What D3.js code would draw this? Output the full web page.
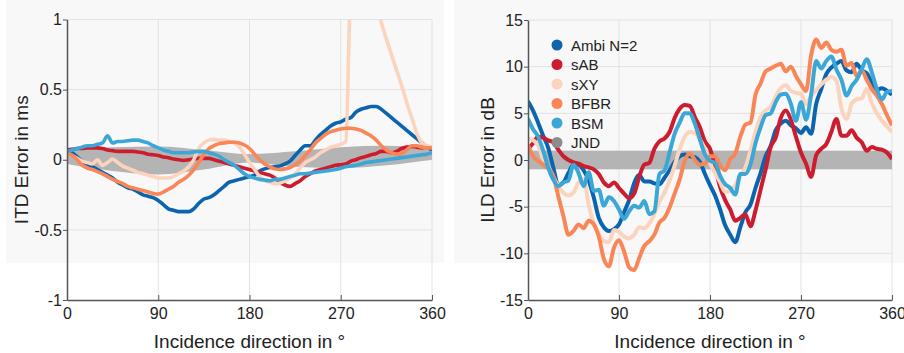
<!DOCTYPE html>
<html>
<head>
<meta charset="utf-8">
<script src="https://cdn.jsdelivr.net/npm/d3@7"></script>
<style>
  body { margin: 0; background: #fff; }
  text { font-family: "Liberation Sans", Arial, sans-serif; fill: #222; }
</style>
</head>
<body>
<div id="area"></div>
<script>
// angles (deg) shared by all curves, 5 deg steps
var angles = d3.range(0, 361, 5);

var seriesNames = ["Ambi N=2", "sAB", "sXY", "BFBR", "BSM"];
var seriesColors = ["#0b64ad", "#cc1c2e", "#fcd3bd", "#fa8658", "#3aa7d7"];

// ITD error in ms
var itdAmbi = [0.06,0.05,0.02,-0.01,-0.03,-0.05,-0.07,-0.09,-0.11,-0.13,-0.16,-0.18,-0.2,-0.21,-0.23,-0.25,-0.26,-0.27,-0.29,-0.32,-0.35,-0.36,-0.37,-0.37,-0.37,-0.35,-0.31,-0.28,-0.27,-0.25,-0.22,-0.19,-0.16,-0.15,-0.14,-0.13,-0.12,-0.11,-0.08,-0.065,-0.055,-0.05,-0.045,-0.03,-0.01,0.03,0.07,0.1,0.1,0.14,0.18,0.21,0.24,0.26,0.27,0.29,0.3,0.34,0.36,0.37,0.38,0.38,0.36,0.33,0.3,0.27,0.24,0.21,0.18,0.15,0.12,0.09,0.07];
var itdSAB = [0.07,0.075,0.08,0.08,0.085,0.085,0.085,0.08,0.07,0.065,0.06,0.06,0.06,0.06,0.055,0.05,0.04,0.035,0.03,0.02,0.015,0.005,0.0,-0.005,0.0,0.005,0.01,0.01,0.01,0.0,-0.01,-0.02,-0.03,-0.04,-0.05,-0.06,-0.07,-0.08,-0.09,-0.1,-0.11,-0.13,-0.16,-0.18,-0.19,-0.17,-0.15,-0.12,-0.1,-0.08,-0.07,-0.06,-0.05,-0.04,-0.035,-0.03,-0.01,0.0,0.015,0.024,0.035,0.045,0.06,0.06,0.05,0.06,0.08,0.09,0.095,0.09,0.085,0.09,0.08];
var itdSXY = [0.05,0.03,0.01,-0.01,-0.02,-0.03,0.0,-0.04,-0.02,0.005,-0.02,-0.045,-0.06,-0.075,-0.09,-0.1,-0.11,-0.12,-0.13,-0.13,-0.13,-0.12,-0.1,-0.08,-0.05,0.0,0.08,0.12,0.14,0.145,0.14,0.14,0.13,0.12,0.09,0.04,-0.02,-0.07,-0.12,-0.15,-0.16,-0.17,-0.165,-0.15,-0.13,-0.1,-0.06,-0.02,0.0,0.02,0.05,0.07,0.09,0.1,0.11,0.13,1.25,1.35,1.38,1.35,1.25,1.12,0.98,0.86,0.75,0.64,0.53,0.41,0.3,0.19,0.12,0.1,0.09];
var itdBFBR = [0.05,0.03,0.0,-0.04,-0.06,-0.07,-0.085,-0.1,-0.12,-0.14,-0.155,-0.17,-0.19,-0.2,-0.21,-0.22,-0.23,-0.24,-0.245,-0.23,-0.21,-0.19,-0.16,-0.14,-0.11,-0.07,-0.02,0.04,0.08,0.1,0.115,0.12,0.125,0.125,0.12,0.105,0.08,0.04,0.0,-0.03,-0.05,-0.065,-0.07,-0.065,-0.055,-0.035,-0.01,0.03,0.07,0.12,0.15,0.18,0.2,0.21,0.22,0.225,0.225,0.22,0.21,0.19,0.17,0.14,0.1,0.07,0.05,0.04,0.045,0.07,0.1,0.1,0.09,0.085,0.085];
var itdBSM = [0.06,0.07,0.08,0.09,0.1,0.1,0.11,0.12,0.17,0.12,0.13,0.13,0.135,0.14,0.14,0.13,0.12,0.1,0.085,0.07,0.06,0.05,0.05,0.05,0.05,0.055,0.06,0.06,0.05,0.04,0.025,0.0,-0.02,-0.04,-0.07,-0.1,-0.12,-0.13,-0.14,-0.145,-0.15,-0.14,-0.14,-0.13,-0.12,-0.11,-0.1,-0.1,-0.095,-0.09,-0.085,-0.08,-0.075,-0.07,-0.06,-0.05,-0.045,-0.04,-0.03,-0.02,-0.015,-0.01,-0.005,0.0,0.005,0.01,0.015,0.02,0.025,0.03,0.035,0.04,0.05];
var itdJndAngles = [0, 45, 90, 135, 180, 225, 270, 315, 360];
var itdJndUpper = [0.08, 0.09, 0.095, 0.07, 0.04, 0.06, 0.09, 0.1, 0.08];
var itdJndLower = [-0.03, -0.08, -0.105, -0.07, -0.02, -0.05, -0.06, -0.04, 0.0];

// ILD error in dB
var ildAmbi = [6.3,5.3,4.0,2.6,1.3,-0.8,-2.7,-2.4,-1.4,-0.5,-0.5,-1.1,-2.2,-4.0,-6.2,-7.2,-7.6,-7.4,-6.9,-5.6,-4.3,-2.5,-1.6,-2.3,-2.3,-2.5,-2.6,-1.9,-1.1,-0.2,0.4,0.6,0.4,0.3,-0.2,-1.5,-2.7,-3.8,-5.3,-7.0,-8.0,-8.8,-7.2,-5.6,-4.8,-3.0,-1.4,0.4,1.5,3.2,3.9,4.2,3.7,3.4,2.9,3.5,2.8,6.0,7.6,9.2,9.9,10.3,10.6,9.6,9.4,10.3,9.6,9.3,8.3,7.5,7.7,7.4,7.0];
var ildSAB = [1.2,1.8,2.5,2.4,2.1,1.9,1.1,0.4,0.0,-0.25,-0.4,-0.65,-0.8,-1.0,-1.5,-2.4,-2.8,-2.4,-3.0,-3.6,-4.1,-3.6,-1.8,-0.5,-0.3,1.2,2.0,2.3,3.0,4.5,5.5,5.9,5.8,4.6,3.5,2.0,1.2,-0.8,-2.9,-4.3,-5.3,-6.5,-6.2,-5.8,-7.1,-5.4,-3.2,-1.0,1.4,2.4,4.5,5.3,4.3,2.5,0.8,-0.4,-1.8,0.5,1.2,1.7,3.0,4.4,2.6,2.6,3.2,2.4,1.9,1.0,1.4,1.2,1.1,0.8,0.1];
var ildSXY = [2.3,2.1,1.6,0.1,-0.7,-1.8,-2.8,-3.5,-3.8,-3.5,-2.4,-2.0,-4.8,-6.8,-7.9,-8.7,-8.8,-7.5,-7.7,-8.2,-8.4,-8.0,-7.2,-7.3,-6.8,-5.8,-4.5,-3.5,-2.2,-0.6,1.15,2.5,3.0,2.9,2.2,1.2,-0.3,-1.4,-2.4,-3.4,-3.3,-2.7,-1.7,-0.8,1.0,3.0,4.6,5.3,5.7,6.8,7.7,8.0,7.4,7.2,7.1,6.0,6.8,7.5,8.1,8.6,8.9,8.5,5.5,4.4,6.0,6.5,6.6,7.6,6.1,5.0,4.2,3.6,3.0];
var ildBFBR = [1.6,0.4,-0.1,-0.5,-0.9,-1.7,-3.9,-6.0,-8.0,-7.6,-6.9,-7.3,-6.5,-6.9,-8.2,-10.6,-11.4,-9.4,-8.6,-9.8,-11.5,-11.8,-10.5,-9.2,-8.7,-8.0,-6.7,-6.2,-5.1,-3.6,-2.1,-0.1,0.7,0.0,-0.5,-0.4,0.4,0.4,-0.6,-1.1,0.1,0.7,2.5,3.8,4.0,7.0,8.2,9.5,9.8,10.1,10.3,9.5,10.0,9.0,8.1,7.4,11.2,12.9,12.0,12.6,11.8,11.6,11.8,10.1,10.4,9.0,9.6,8.6,7.6,6.9,6.0,4.8,3.7];
var ildBSM = [4.4,3.3,2.5,1.0,-0.8,-2.1,-2.8,-2.4,-2.2,-0.5,-1.4,-2.8,-1.3,-3.3,-3.2,-4.9,-4.0,-4.4,-5.3,-6.3,-5.5,-4.9,-5.1,-4.4,-5.8,-5.5,-1.5,-1.1,0.8,2.8,4.0,5.0,5.0,3.9,2.2,0.6,-0.1,-0.3,-1.7,-2.6,-3.0,-3.7,-1.5,-1.5,-0.5,1.8,3.5,4.8,5.0,6.2,7.0,7.1,6.0,4.2,6.2,4.3,7.0,10.6,9.8,10.6,11.1,9.7,8.6,6.9,7.9,8.6,9.7,10.8,9.4,7.6,6.5,7.3,7.4];
var ildJnd = [-1, 1];

var xTicks = [0, 90, 180, 270, 360];
var itdTicks = [-1, -0.5, 0, 0.5, 1];
var ildTicks = [-15, -10, -5, 0, 5, 10, 15];

var svg = d3.select("#area").append("svg")
  .attr("width", 904).attr("height", 353);

// faint grey scan background in the upper part
svg.append("rect").attr("x", 6).attr("y", 0).attr("width", 438).attr("height", 263).attr("fill", "#f8f8f8");
svg.append("rect").attr("x", 454).attr("y", 0).attr("width", 450).attr("height", 263).attr("fill", "#f8f8f8");

function panel(opts) {
  var m = opts.margin;
  var width = opts.width, height = opts.height;
  var g = svg.append("g").attr("transform", "translate(" + m.left + "," + m.top + ")");

  var x = d3.scaleLinear().domain([0, 360]).range([0, width]);
  var y = d3.scaleLinear().domain(opts.yDomain).range([height, 0]);

  // grid
  g.append("g").selectAll("line").data(xTicks.slice(1)).enter().append("line")
    .attr("x1", d => x(d)).attr("x2", d => x(d)).attr("y1", 0).attr("y2", height)
    .attr("stroke", "#e2e2e2").attr("stroke-width", 1);
  g.append("g").selectAll("line").data(opts.yTicks.slice(1)).enter().append("line")
    .attr("x1", 0).attr("x2", width).attr("y1", d => y(d)).attr("y2", d => y(d))
    .attr("stroke", "#e2e2e2").attr("stroke-width", 1);

  var clipId = "clip" + opts.id;
  g.append("clipPath").attr("id", clipId).append("rect")
    .attr("x", 0).attr("y", 0).attr("width", width).attr("height", height);
  var plot = g.append("g").attr("clip-path", "url(#" + clipId + ")");

  opts.drawBand(plot, x, y);

  var line = d3.line().x((d, i) => x(angles[i])).y(d => y(d)).curve(d3.curveMonotoneX);
  opts.series.forEach(function (s, i) {
    plot.append("path").datum(s)
      .attr("fill", "none")
      .attr("stroke", seriesColors[i])
      .attr("stroke-width", opts.lineWidth)
      .attr("stroke-linejoin", "round")
      .attr("d", line);
  });

  var xAxis = g.append("g").attr("transform", "translate(0," + height + ")")
    .call(d3.axisBottom(x).tickValues(xTicks).tickSizeInner(-5).tickSizeOuter(0).tickPadding(8));
  var yAxis = g.append("g")
    .call(d3.axisLeft(y).tickValues(opts.yTicks).tickSizeInner(4).tickSizeOuter(0).tickPadding(1)
      .tickFormat(d => d3.format("")(d).replace("−", "-")));
  [xAxis, yAxis].forEach(function (a) {
    a.select(".domain").attr("stroke", "#555").attr("stroke-width", 1.5);
    a.selectAll(".tick line").attr("stroke", "#555");
    a.selectAll("text").style("font-size", "16px").attr("fill", "#222");
  });

  g.append("text")
    .attr("x", width / 2).attr("y", height + 48)
    .attr("text-anchor", "middle").style("font-size", "19px")
    .text("Incidence direction in °");
  g.append("text")
    .attr("transform", "translate(" + opts.yTitleX + "," + height / 2 + ") rotate(-90)")
    .attr("text-anchor", "middle").style("font-size", "19px")
    .text(opts.yTitle);
  return { g: g, x: x, y: y };
}

// left: ITD
panel({
  id: "itd",
  margin: { top: 19.5, left: 67 },
  width: 365, height: 280.5,
  yDomain: [-1, 1], yTicks: itdTicks,
  series: [itdAmbi, itdSAB, itdSXY, itdBFBR, itdBSM],
  lineWidth: 3.6,
  yTitle: "ITD Error in ms", yTitleX: -39,
  drawBand: function (p, x, y) {
    var area = d3.area()
      .x((d, i) => x(itdJndAngles[i]))
      .y0((d, i) => y(itdJndLower[i]))
      .y1(d => y(d))
      .curve(d3.curveMonotoneX);
    p.append("path").datum(itdJndUpper).attr("fill", "#b4b4b4").attr("d", area);
  }
});

// right: ILD
var right = panel({
  id: "ild",
  margin: { top: 20, left: 528 },
  width: 364, height: 280,
  yDomain: [-15, 15], yTicks: ildTicks,
  series: [ildAmbi, ildSAB, ildSXY, ildBFBR, ildBSM],
  lineWidth: 4,
  yTitle: "ILD Error in dB", yTitleX: -34,
  drawBand: function (p, x, y) {
    p.append("rect").attr("x", x(0)).attr("width", x(360) - x(0))
      .attr("y", y(ildJnd[1])).attr("height", y(ildJnd[0]) - y(ildJnd[1]))
      .attr("fill", "#b4b4b4");
  }
});

// legend
var legendColors = seriesColors.concat(["#8c8c8c"]);
var legendNames = seriesNames.concat(["JND"]);
var lg = right.g.append("g").attr("transform", "translate(29,25)");
legendNames.forEach(function (n, i) {
  var row = lg.append("g").attr("transform", "translate(0," + (i * 19.5) + ")");
  row.append("circle").attr("r", 5.5).attr("fill", legendColors[i]);
  row.append("text").attr("x", 14).attr("y", 5.5).style("font-size", "15px").text(n);
});
</script>
</body>
</html>
